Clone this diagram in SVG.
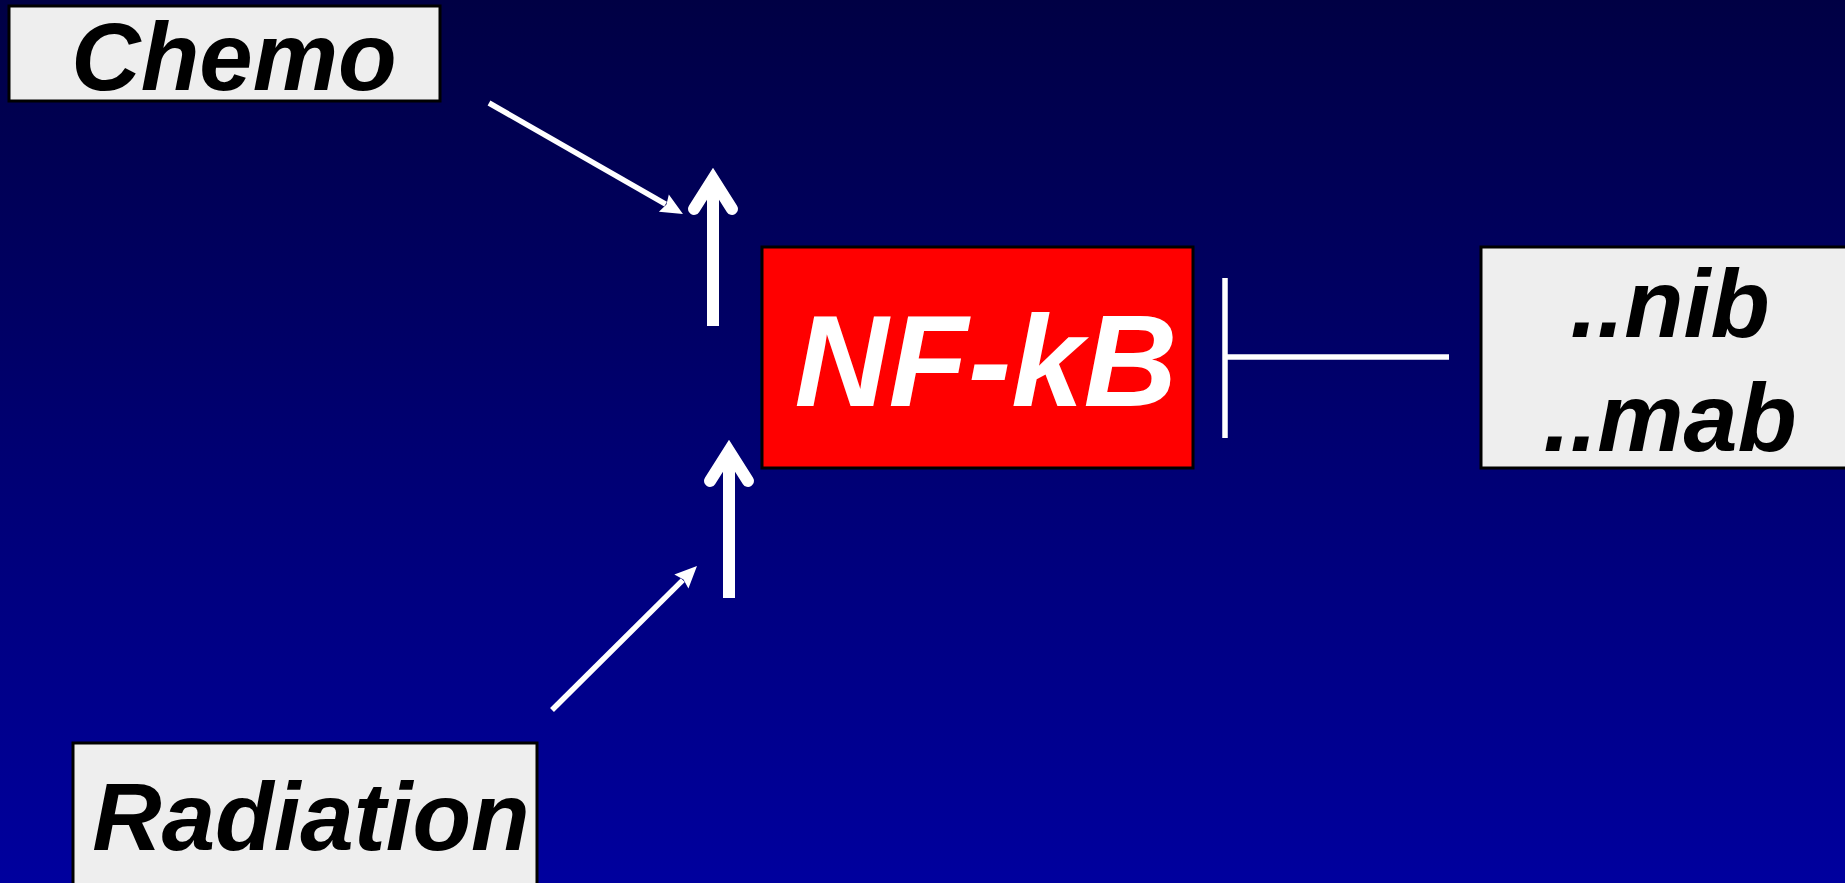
<svg xmlns="http://www.w3.org/2000/svg" width="1845" height="883" viewBox="0 0 1845 883">
  <style>
    .label { font-family: "Liberation Sans", Arial, sans-serif; font-weight: bold; font-style: italic; text-anchor: middle; }
    .dark { fill: #000000; }
    .light { fill: #ffffff; }
    .box { fill: #eeeeee; stroke: #000000; stroke-width: 3; }
    .thin { stroke: #ffffff; stroke-width: 5.5; fill: none; }
    .thick { stroke: #ffffff; stroke-width: 12; fill: none; }
    .chevron { stroke: #ffffff; stroke-width: 12; fill: none; stroke-linecap: round; stroke-linejoin: miter; stroke-miterlimit: 10; }
  </style>
  <defs>
    <linearGradient id="bg" x1="0" y1="0" x2="0" y2="1">
      <stop offset="0" stop-color="#000044"/>
      <stop offset="1" stop-color="#00009e"/>
    </linearGradient>
    <!-- head drawn ahead of the line end so the stroke never pokes past the tip -->
    <marker id="head" viewBox="-4 -12 26 24" refX="0" refY="0" markerWidth="26" markerHeight="24" markerUnits="userSpaceOnUse" orient="auto">
      <path d="M20,0 L-2,-10 L1,0 L-2,10 Z" fill="#ffffff"/>
    </marker>
  </defs>

  <rect x="0" y="0" width="1845" height="883" fill="url(#bg)"/>

  <g id="connectors">
    <!-- Chemo feeding into the upper activation arrow -->
    <line class="thin" x1="489" y1="103" x2="665.6" y2="204.1" marker-end="url(#head)"/>
    <!-- Radiation feeding into the lower activation arrow -->
    <line class="thin" x1="552" y1="710" x2="682.8" y2="580.1" marker-end="url(#head)"/>
    <!-- Upper activation arrow -->
    <line class="thick" x1="713" y1="326" x2="713" y2="184"/>
    <polyline class="chevron" points="694,209 713,179 732,209"/>
    <!-- Lower activation arrow -->
    <line class="thick" x1="729" y1="598" x2="729" y2="456"/>
    <polyline class="chevron" points="710,481 729,451 748,481"/>
    <!-- Inhibition of NF-kB -->
    <line class="thin" x1="1225" y1="278" x2="1225" y2="438"/>
    <line class="thin" x1="1225" y1="357" x2="1449" y2="357"/>
  </g>

  <g id="chemo">
    <rect class="box" x="9" y="6" width="431" height="95"/>
    <text class="label dark" x="234" y="90" font-size="96">Chemo</text>
  </g>

  <g id="nfkb">
    <rect x="762" y="247" width="431" height="221" fill="#ff0000" stroke="#000000" stroke-width="3"/>
    <text class="label light" x="986" y="406" font-size="130">NF-kB</text>
  </g>

  <g id="inhibitors">
    <rect class="box" x="1481" y="247" width="400" height="221"/>
    <text class="label dark" x="1670" y="337" font-size="97">..nib</text>
    <text class="label dark" x="1670" y="451" font-size="97">..mab</text>
  </g>

  <g id="radiation">
    <rect class="box" x="73" y="743" width="464" height="160"/>
    <text class="label dark" x="311" y="850" font-size="96">Radiation</text>
  </g>
</svg>
